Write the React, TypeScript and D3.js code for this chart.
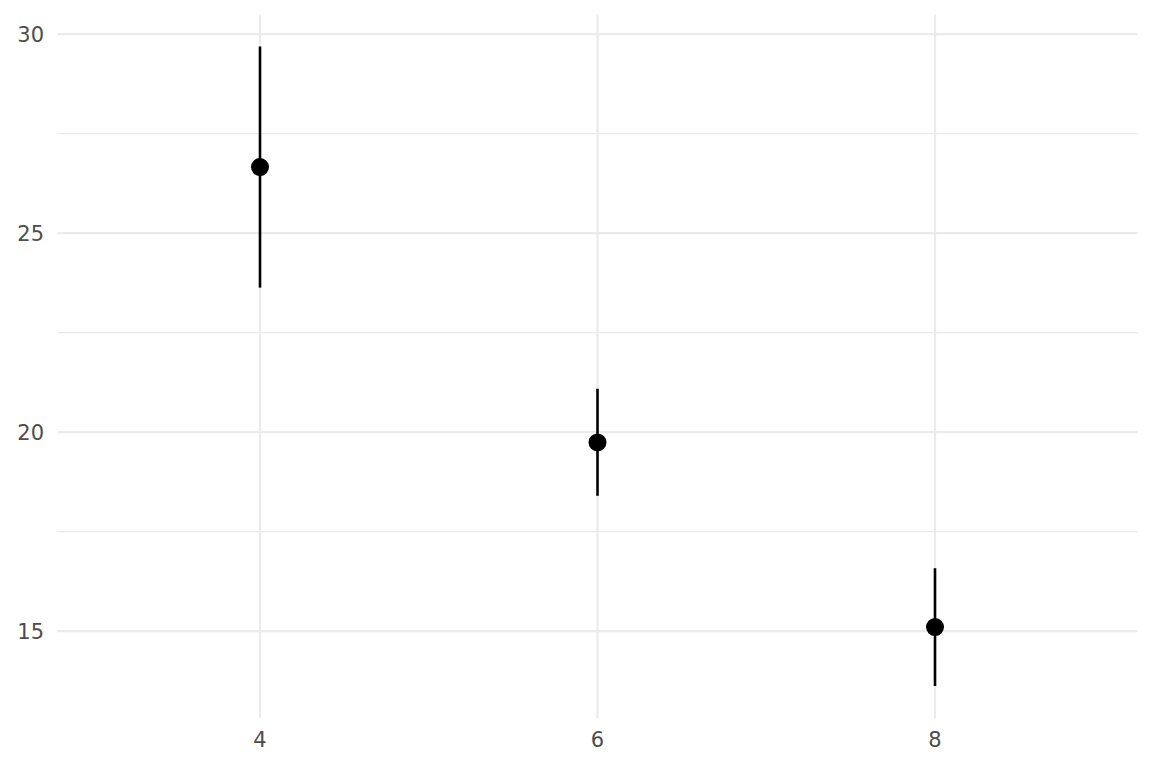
import React from "react";
import * as d3 from "d3";

const categories = ["4", "6", "8"];
const means = [26.66, 19.74, 15.1];
const lowers = [23.63, 18.4, 13.62];
const uppers = [29.69, 21.09, 16.58];
const yMajorTicks = [15, 20, 25, 30];
const yMinorTicks = [17.5, 22.5, 27.5];

const W = 1152;
const H = 768;
const margin = { left: 57.5, right: 14.5, top: 14.5, bottom: 50 };

export default function App() {
  const x = d3
    .scalePoint<string>()
    .domain(categories)
    .range([margin.left, W - margin.right])
    .padding(0.6);
  const lo = d3.min(lowers)!;
  const hi = d3.max(uppers)!;
  const pad = (hi - lo) * 0.05;
  const y = d3
    .scaleLinear()
    .domain([lo - pad, hi + pad])
    .range([H - margin.bottom, margin.top]);

  const textColor = "#4D4D4D";
  const font = "'DejaVu Sans', sans-serif";
  return (
    <svg
      width={W}
      height={H}
      style={{ position: "absolute", left: 0, top: 0, background: "#fff" }}
    >
      {yMinorTicks.map((t) => (
        <line
          key={"mi" + t}
          x1={margin.left}
          x2={W - margin.right}
          y1={y(t)}
          y2={y(t)}
          stroke="#EBEBEB"
          strokeWidth={1.1}
        />
      ))}
      {yMajorTicks.map((t) => (
        <line
          key={"ma" + t}
          x1={margin.left}
          x2={W - margin.right}
          y1={y(t)}
          y2={y(t)}
          stroke="#EBEBEB"
          strokeWidth={2.2}
        />
      ))}
      {categories.map((c) => (
        <line
          key={"v" + c}
          x1={x(c)}
          x2={x(c)}
          y1={margin.top}
          y2={H - margin.bottom}
          stroke="#EBEBEB"
          strokeWidth={2.2}
        />
      ))}
      {yMajorTicks.map((t) => (
        <text
          key={"yl" + t}
          x={44}
          y={y(t)}
          dy="0.36em"
          textAnchor="end"
          fill={textColor}
          fontFamily={font}
          fontSize={21}
        >
          {t}
        </text>
      ))}
      {categories.map((c) => (
        <text
          key={"xl" + c}
          x={x(c)}
          y={H - margin.bottom + 29}
          textAnchor="middle"
          fill={textColor}
          fontFamily={font}
          fontSize={21}
        >
          {c}
        </text>
      ))}
      {categories.map((c, i) => (
        <g key={"p" + c}>
          <line
            x1={x(c)}
            x2={x(c)}
            y1={y(lowers[i])}
            y2={y(uppers[i])}
            stroke="#000"
            strokeWidth={2.6}
          />
          <circle cx={x(c)} cy={y(means[i])} r={9} fill="#000" />
        </g>
      ))}
    </svg>
  );
}
